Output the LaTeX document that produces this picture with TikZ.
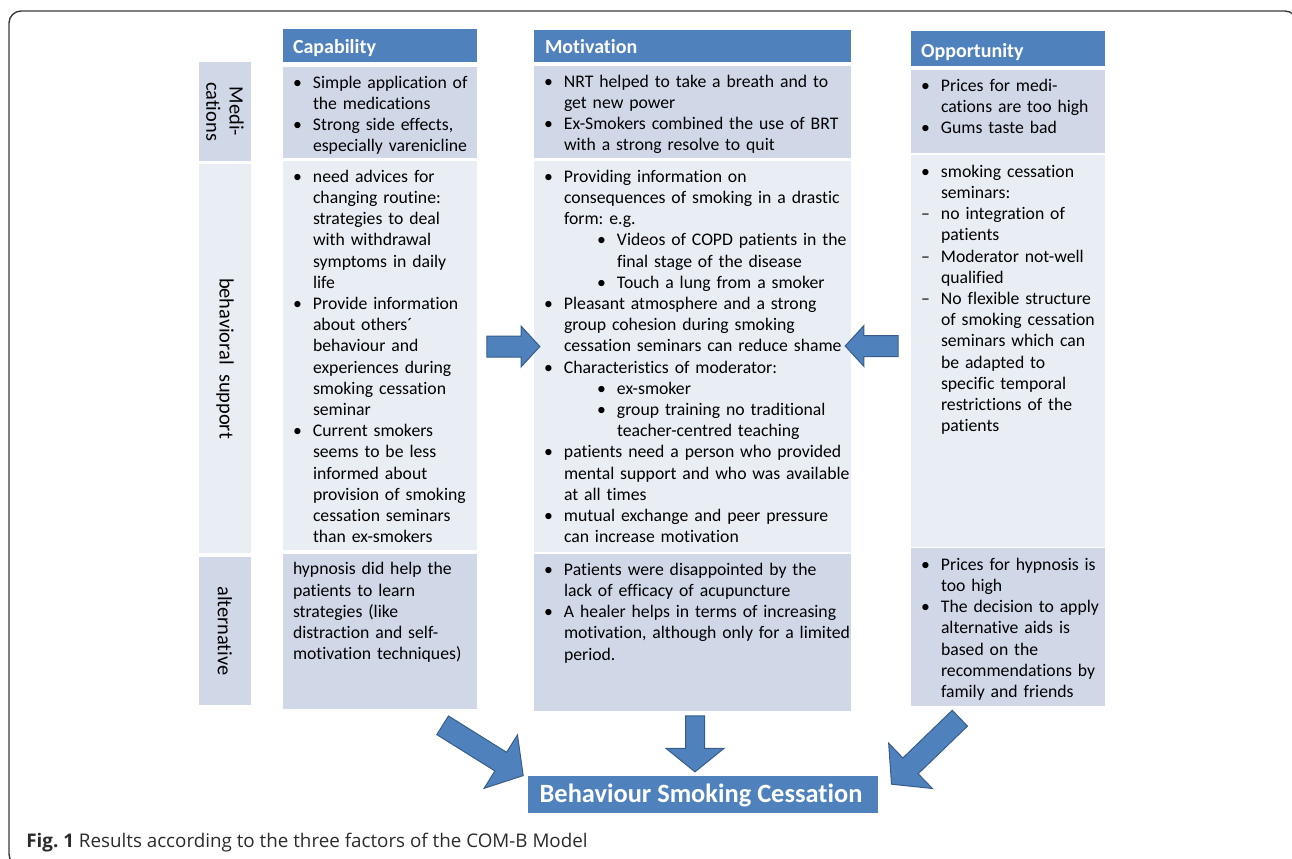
\documentclass[tikz,border=0pt]{standalone}
\usepackage{fontspec}
\setmainfont{Carlito}[Ligatures={TeX,NoCommon}]
\newfontfamily\capfont{Open Sans}
\usetikzlibrary{shapes.arrows, fit, calc}

\definecolor{hdrblue}{HTML}{4F81BD}
\definecolor{arrowline}{HTML}{385D8A}
\definecolor{celldark}{HTML}{D0D8E8}
\definecolor{celllight}{HTML}{E9EDF4}
\definecolor{framegray}{HTML}{3A3A3A}
\definecolor{captext}{HTML}{2B2B2B}

% bullet items inside the cells
\newcommand{\itm}[1]{\par\leftskip=10pt\noindent\hspace*{-10pt}\strut\makebox[10pt][l]{\textbullet}#1}
\newcommand{\subitm}[1]{\par\leftskip=36.5pt\noindent\hspace*{-10pt}\strut\makebox[10pt][l]{\textbullet}#1}
\newcommand{\dashitm}[1]{\par\leftskip=10pt\noindent\hspace*{-10pt}\strut\makebox[10pt][l]{\textendash}#1}

\begin{document}
\frenchspacing
\begin{tikzpicture}[x=0.5pt, y=-0.5pt]

  % Define cell styles
  \tikzset{
    cell dark/.style={fill=celldark, inner sep=0pt},
    cell light/.style={fill=celllight, inner sep=0pt},
    header/.style={fill=hdrblue, inner sep=0pt},
    cell text/.style={anchor=north west, inner sep=0pt, text width=#1, align=left,
      font=\fontsize{8.85}{10.6}\selectfont},
    row label/.style={rotate=-90, align=center, inner sep=0pt,
      font=\fontsize{10.2}{11.6}\selectfont},
    head text/.style={anchor=base west, inner sep=0pt, text=white,
      font=\fontsize{10}{12}\bfseries\selectfont},
    fat arrow/.style={single arrow, fill=hdrblue, draw=arrowline, line width=0.5pt,
      inner xsep=0pt, inner ysep=5pt, single arrow tip angle=95,
      minimum height=26.5pt, minimum width=0pt, single arrow head extend=5pt},
    big arrow/.style={fat arrow, single arrow tip angle=100, minimum height=47.5pt,
      inner ysep=5.25pt, single arrow head extend=10.25pt}
  }

  \useasboundingbox (0,0) rectangle (1292,858);
  \clip (0,0) rectangle (1292,858);

  % Outer frame
  \draw[framegray, line width=0.7pt, rounded corners=6pt] (9,11) rectangle (1297,866);

  % Row labels
  \node[cell dark, fit={(199,62) (251,161)}] (medLab) {};
  \node[row label] (medTxt) at (medLab.center) {Medi-\\cations};
  \node[cell light, fit={(199,164) (251,553)}] (behLab) {};
  \node[row label] (behTxt) at (behLab.center) {behavioral\ \ support};
  \node[cell dark, fit={(199,557) (251,705)}] (altLab) {};
  \node[row label] (altTxt) at (altLab.center) {alternative};

  % Capability column
  \node[header, fit={(283,29) (477,62)}] (capHead) {};
  \node[head text] (capTitle) at ($(capHead.south west)+(10,-9)$) {Capability};
  \node[cell dark, fit={(283,67) (477,158)}] (capMed) {};
  \node[cell text=100pt] (capMedTxt) at ($(capMed.north west)+(10,0)$) {%
    \itm{Simple application of\newline the medications}
    \itm{Strong side effects,\newline especially varenicline}\par};
  \node[cell light, fit={(283,161) (477,550)}] (capBeh) {};
  \node[cell text=100pt] (capBehTxt) at ($(capBeh.north west)+(10,0)$) {%
    \itm{need advices for\newline changing routine:\newline strategies to deal\newline with withdrawal\newline symptoms in daily\newline life}
    \itm{Provide information\newline about others´\newline behaviour and\newline experiences during\newline smoking cessation\newline seminar}
    \itm{Current smokers\newline seems to be less\newline informed about\newline provision of smoking\newline cessation seminars\newline than ex-smokers}\par};
  \node[cell dark, fit={(283,554) (477,709)}] (capAlt) {};
  \node[cell text=100pt] (capAltTxt) at ($(capAlt.north west)+(10,6)$) {%
    \strut hypnosis did help the\newline patients to learn\newline strategies (like\newline distraction and self-\newline motivation techniques)};

  % Motivation column
  \node[header, fit={(534,30) (851,62)}] (motHead) {};
  \node[head text] (motTitle) at ($(motHead.south west)+(11,-9)$) {Motivation};
  \node[cell dark, fit={(534,66) (851,158)}] (motMed) {};
  \node[cell text=165pt] (motMedTxt) at ($(motMed.north west)+(10,0)$) {%
    \itm{NRT helped to take a breath and to\newline get new power}
    \itm{Ex-Smokers combined the use of BRT\newline with a strong resolve to quit}\par};
  \node[cell light, fit={(534,161) (851,552)}] (motBeh) {};
  \node[cell text=165pt] (motBehTxt) at ($(motBeh.north west)+(10,0)$) {%
    \itm{Providing information on\newline consequences of smoking in a drastic\newline form: e.g.}
    \subitm{Videos of COPD patients in the\newline final stage of the disease}
    \subitm{Touch a lung from a smoker}
    \itm{Pleasant atmosphere and a strong\newline group cohesion during smoking\newline cessation seminars can reduce shame}
    \itm{Characteristics of moderator:}
    \subitm{ex-smoker}
    \subitm{group training no traditional\newline teacher-centred teaching}
    \itm{patients need a person who provided\newline mental support and who was available\newline at all times}
    \itm{mutual exchange and peer pressure\newline can increase motivation}\par};
  \node[cell dark, fit={(534,554) (851,711)}] (motAlt) {};
  \node[cell text=165pt] (motAltTxt) at ($(motAlt.north west)+(10,0)$) {%
    \itm{Patients were disappointed by the\newline lack of efficacy of acupuncture}
    \itm{A healer helps in terms of increasing\newline motivation, although only for a limited\newline period.}\par};

  % Opportunity column
  \node[header, fit={(911,31) (1105,66)}] (oppHead) {};
  \node[head text] (oppTitle) at ($(oppHead.south west)+(10,-9)$) {Opportunity};
  \node[cell dark, fit={(911,70) (1105,153)}] (oppMed) {};
  \node[cell text=100pt] (oppMedTxt) at ($(oppMed.north west)+(10,0)$) {%
    \itm{Prices for medi-\newline cations are too high}
    \itm{Gums taste bad}\par};
  \node[cell light, fit={(911,155) (1105,547)}] (oppBeh) {};
  \node[cell text=100pt] (oppBehTxt) at ($(oppBeh.north west)+(10,1)$) {%
    \itm{smoking cessation\newline seminars:}
    \dashitm{no integration of\newline patients}
    \dashitm{Moderator not-well\newline qualified}
    \dashitm{No flexible structure\newline of smoking cessation\newline seminars which can\newline be adapted to\newline specific temporal\newline restrictions of the\newline patients}\par};
  \node[cell dark, fit={(911,548) (1105,706)}] (oppAlt) {};
  \node[cell text=100pt] (oppAltTxt) at ($(oppAlt.north west)+(10,1)$) {%
    \itm{Prices for hypnosis is\newline too high}
    \itm{The decision to apply\newline alternative aids is\newline based on the\newline recommendations by\newline family and friends}\par};

  % Behaviour box
  \node[header, fit={(528,776) (878,813)}] (behav) {};
  \node[anchor=base, inner sep=0pt, text=white, font=\fontsize{13.2}{15}\bfseries\selectfont]
    (behavTxt) at ($(behav.south)+(-2,-11)$) {Behaviour Smoking Cessation};

  % Block arrows
  \node[fat arrow] (arrCapMot) at (508.5,346.5) {};
  \node[fat arrow, rotate=180] (arrOppMot) at (876.5,346) {};
  \node[big arrow, rotate=-32] (arrCapBeh) at (479,748) {};
  \node[big arrow, rotate=-90, minimum height=28pt, inner ysep=4.5pt,
    single arrow head extend=9.75pt, single arrow tip angle=102] (arrMotBeh) at (695,740) {};
  \node[big arrow, rotate=-136] (arrOppBeh) at (929,748) {};

  % Caption
  \node[anchor=base west, inner sep=0pt, text=captext, font=\capfont\fontsize{9.4}{11}\selectfont]
    (caption) at (26,847) {\textbf{Fig. 1} Results according to the three factors of the COM-B Model};

\end{tikzpicture}
\end{document}
